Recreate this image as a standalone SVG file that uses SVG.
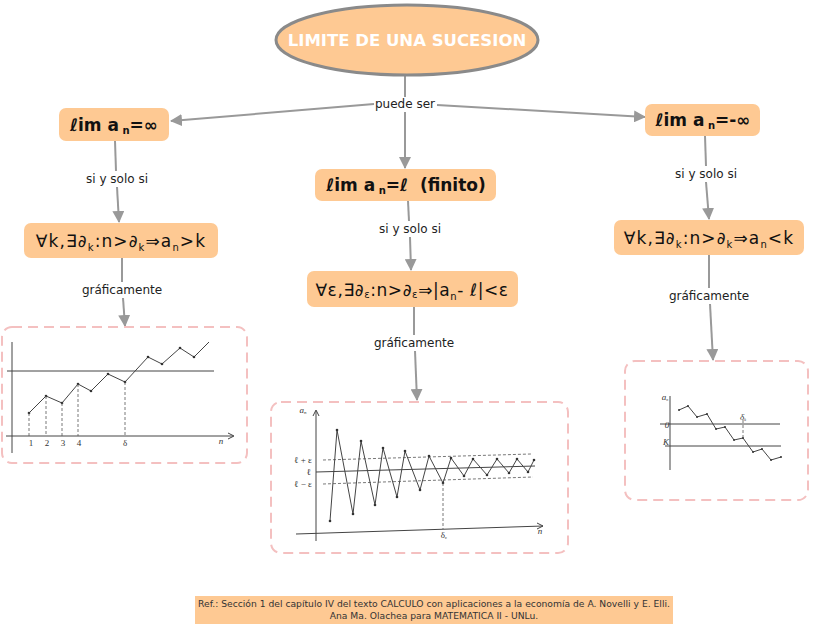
<svg xmlns="http://www.w3.org/2000/svg" width="813" height="627" viewBox="0 0 813 627">
<defs>
<style>
.node{fill:#fec993;}
.c{stroke:#999;stroke-width:2;fill:none;}
.lbl{font-family:"DejaVu Sans",Verdana,sans-serif;font-size:12px;fill:#222;text-anchor:middle;}
.lim{font-family:"DejaVu Sans",Verdana,sans-serif;font-size:17px;font-weight:bold;fill:#111;text-anchor:middle;}
.frm{font-family:"DejaVu Sans",Verdana,sans-serif;font-size:17px;fill:#111;text-anchor:middle;letter-spacing:1.1px;}
.sub{font-size:10px;}
.box{fill:#fff;stroke:#f4c0c0;stroke-width:2;stroke-dasharray:10 6;}
.g{stroke:#444;stroke-width:1;fill:none;}
.gd{stroke:#555;stroke-width:0.8;fill:none;stroke-dasharray:3 2;}
.gt{font-family:"Liberation Serif",serif;font-size:9px;fill:#333;text-anchor:middle;}
.pt{fill:#333;}
</style>
<marker id="ah" viewBox="0 0 12 12" refX="11" refY="6" markerWidth="12" markerHeight="12" markerUnits="userSpaceOnUse" orient="auto">
<path d="M0,0 L12,6 L0,12 Z" fill="#999"/>
</marker>
</defs>
<rect width="813" height="627" fill="#fff"/>

<g id="connectors">
<line class="c" x1="405" y1="76" x2="405" y2="97"/>
<line class="c" x1="374" y1="104" x2="171" y2="121" marker-end="url(#ah)"/>
<line class="c" x1="437" y1="105" x2="645" y2="117" marker-end="url(#ah)"/>
<line class="c" x1="405" y1="112" x2="405" y2="168" marker-end="url(#ah)"/>
<line class="c" x1="115" y1="141" x2="116" y2="171"/>
<line class="c" x1="117" y1="187" x2="119" y2="222" marker-end="url(#ah)"/>
<line class="c" x1="408" y1="201" x2="409" y2="221"/>
<line class="c" x1="410" y1="237" x2="411" y2="270" marker-end="url(#ah)"/>
<line class="c" x1="705" y1="136" x2="706" y2="166"/>
<line class="c" x1="706" y1="182" x2="709" y2="219" marker-end="url(#ah)"/>
<line class="c" x1="122" y1="258" x2="122" y2="282"/>
<line class="c" x1="123" y1="298" x2="125" y2="326" marker-end="url(#ah)"/>
<line class="c" x1="414" y1="307" x2="414" y2="335"/>
<line class="c" x1="415" y1="351" x2="417" y2="400" marker-end="url(#ah)"/>
<line class="c" x1="709" y1="255" x2="709" y2="288"/>
<line class="c" x1="710" y1="304" x2="713" y2="360" marker-end="url(#ah)"/>
<text class="lbl" x="405" y="108">puede ser</text>
<text class="lbl" x="117" y="183">si y solo si</text>
<text class="lbl" x="410" y="233">si y solo si</text>
<text class="lbl" x="706" y="178">si y solo si</text>
<text class="lbl" x="122" y="294">gráficamente</text>
<text class="lbl" x="414" y="347">gráficamente</text>
<text class="lbl" x="709" y="300">gráficamente</text>
</g>

<g id="title">
<ellipse cx="407" cy="40" rx="131" ry="35" fill="#fec993" stroke="#8a8a8a" stroke-width="3"/>
<text x="407" y="45.5" font-family="'DejaVu Sans',Verdana,sans-serif" font-size="16.5" font-weight="bold" fill="#fff" text-anchor="middle">LIMITE DE UNA SUCESION</text>
</g>

<g id="lim-inf">
<rect class="node" x="59" y="108" width="110" height="33" rx="7"/>
<text class="lim" x="114" y="131">ℓim a<tspan class="sub" dy="3"> n</tspan><tspan dy="-3">=∞</tspan></text>
</g>

<g id="lim-finito">
<rect class="node" x="315" y="169" width="181" height="32" rx="7"/>
<text class="lim" x="406" y="191">ℓim a<tspan class="sub" dy="3"> n</tspan><tspan dy="-3" xml:space="preserve">=ℓ  (finito)</tspan></text>
</g>

<g id="lim-minf">
<rect class="node" x="645" y="104" width="115" height="32" rx="7"/>
<text class="lim" x="703" y="126">ℓim a<tspan class="sub" dy="3"> n</tspan><tspan dy="-3">=-∞</tspan></text>
</g>

<g id="def-inf">
<rect class="node" x="24" y="223" width="194" height="35" rx="7"/>
<text class="frm" x="121" y="247">∀k,∃∂<tspan class="sub" dy="4">k</tspan><tspan dy="-4">:n&gt;∂</tspan><tspan class="sub" dy="4">k</tspan><tspan dy="-4">⇒a</tspan><tspan class="sub" dy="4">n</tspan><tspan dy="-4">&gt;k</tspan></text>
</g>

<g id="def-finito">
<rect class="node" x="307" y="271" width="211" height="36" rx="7"/>
<text class="frm" x="412" y="296" style="letter-spacing:0.6px">∀ε,∃∂<tspan class="sub" dy="2">ε</tspan><tspan dy="-2">:n&gt;∂</tspan><tspan class="sub" dy="2">ε</tspan><tspan dy="-2">⇒|a</tspan><tspan class="sub" dy="4">n</tspan><tspan dy="-4">- ℓ|&lt;ε</tspan></text>
</g>

<g id="def-minf">
<rect class="node" x="614" y="220" width="190" height="35" rx="7"/>
<text class="frm" x="709" y="244">∀k,∃∂<tspan class="sub" dy="4">k</tspan><tspan dy="-4">:n&gt;∂</tspan><tspan class="sub" dy="4">k</tspan><tspan dy="-4">⇒a</tspan><tspan class="sub" dy="4">n</tspan><tspan dy="-4">&lt;k</tspan></text>
</g>

<g id="graph-left">
<rect class="box" x="2" y="327" width="245" height="136" rx="10"/>
<line class="g" x1="12" y1="342" x2="12" y2="453"/>
<line class="g" x1="6" y1="436" x2="233" y2="436"/>
<path d="M228,433 L234,436 L228,439" class="g"/>
<line class="g" x1="7" y1="371" x2="214" y2="371"/>
<polyline class="g" points="29,413 46,396 62,403 78,384 91,391 108,374 125,382 148,357 162,364 180,348 194,357 209,342"/>
<g class="pt"><circle cx="29" cy="413" r="1.3"/><circle cx="46" cy="396" r="1.3"/><circle cx="62" cy="403" r="1.3"/><circle cx="78" cy="384" r="1.3"/><circle cx="91" cy="391" r="1.3"/><circle cx="108" cy="374" r="1.3"/><circle cx="125" cy="382" r="1.3"/><circle cx="148" cy="357" r="1.3"/><circle cx="162" cy="364" r="1.3"/><circle cx="180" cy="348" r="1.3"/><circle cx="194" cy="357" r="1.3"/></g>
<line class="gd" x1="29" y1="413" x2="29" y2="436"/>
<line class="gd" x1="46" y1="396" x2="46" y2="436"/>
<line class="gd" x1="62" y1="403" x2="62" y2="436"/>
<line class="gd" x1="78" y1="384" x2="78" y2="436"/>
<line class="gd" x1="125" y1="382" x2="125" y2="436"/>
<text class="gt" x="31" y="446">1</text>
<text class="gt" x="47" y="446">2</text>
<text class="gt" x="63" y="446">3</text>
<text class="gt" x="79" y="446">4</text>
<text class="gt" x="125" y="446">δ</text>
<text class="gt" x="221" y="444" font-style="italic">n</text>
</g>

<g id="graph-middle">
<rect class="box" x="271" y="402" width="297" height="151" rx="10"/>
<line class="g" x1="316" y1="411" x2="316" y2="541"/>
<path d="M313,416 L316,410 L319,416" class="g"/>
<line class="g" x1="296" y1="534" x2="543" y2="526"/>
<path d="M537,523 L543,526 L537,529" class="g"/>
<line class="gd" x1="323" y1="460" x2="531" y2="454"/>
<line class="g" x1="316" y1="472" x2="535" y2="466" stroke-width="1.3"/>
<line class="gd" x1="323" y1="484" x2="533" y2="477"/>
<polyline class="g" points="330,521 337,430 353,514 361,441 375,505 383,448 397,497 405,451 420,490 429,456 443,483 451,458 464,476 473,459 487,475 497,459 509,473 517,459 528,472 534,460"/>
<g class="pt"><circle cx="330" cy="521" r="1.3"/><circle cx="337" cy="430" r="1.3"/><circle cx="353" cy="514" r="1.3"/><circle cx="361" cy="441" r="1.3"/><circle cx="375" cy="505" r="1.3"/><circle cx="383" cy="448" r="1.3"/><circle cx="397" cy="497" r="1.3"/><circle cx="405" cy="451" r="1.3"/><circle cx="420" cy="490" r="1.3"/><circle cx="429" cy="456" r="1.3"/><circle cx="443" cy="483" r="1.3"/><circle cx="451" cy="458" r="1.3"/><circle cx="464" cy="476" r="1.3"/><circle cx="473" cy="459" r="1.3"/><circle cx="487" cy="475" r="1.3"/><circle cx="497" cy="459" r="1.3"/><circle cx="509" cy="473" r="1.3"/><circle cx="517" cy="459" r="1.3"/><circle cx="528" cy="472" r="1.3"/><circle cx="534" cy="460" r="1.3"/></g>
<line class="gd" x1="443" y1="483" x2="443" y2="529"/>
<text class="gt" x="303" y="413" font-style="italic" font-size="7">a<tspan font-size="5" dy="1">n</tspan></text>
<text class="gt" x="303" y="463" font-size="7">ℓ + ε</text>
<text class="gt" x="309" y="475" font-size="7">ℓ</text>
<text class="gt" x="303" y="487" font-size="7">ℓ − ε</text>
<text class="gt" x="444" y="538" font-size="7">δ<tspan font-size="5" dy="1">ε</tspan></text>
<text class="gt" x="540" y="534" font-style="italic" font-size="7">n</text>
</g>

<g id="graph-right">
<rect class="box" x="625" y="361" width="183" height="139" rx="10"/>
<line class="g" x1="670" y1="396" x2="670" y2="470"/>
<line class="g" x1="660" y1="424" x2="780" y2="424" stroke-width="0.8"/>
<line class="g" x1="665" y1="446" x2="781" y2="446" stroke-width="0.8"/>
<polyline class="g" points="679,410 688,406 697,417 707,414 716,429 725,427 734,440 743,438 753,452 762,449 771,460 781,457" stroke-width="0.8"/>
<g class="pt"><circle cx="679" cy="410" r="1"/><circle cx="688" cy="406" r="1"/><circle cx="697" cy="417" r="1"/><circle cx="707" cy="414" r="1"/><circle cx="716" cy="429" r="1"/><circle cx="725" cy="427" r="1"/><circle cx="734" cy="440" r="1"/><circle cx="743" cy="438" r="1"/><circle cx="753" cy="452" r="1"/><circle cx="762" cy="449" r="1"/><circle cx="771" cy="460" r="1"/><circle cx="781" cy="457" r="1"/></g>
<line class="gd" x1="743" y1="420" x2="743" y2="438"/>
<text class="gt" x="665" y="400" font-style="italic" font-size="6">a<tspan font-size="4" dy="1">n</tspan></text>
<text class="gt" x="667" y="428" font-style="italic" font-size="6">0</text>
<text class="gt" x="666" y="445" font-style="italic" font-size="6">K</text>
<text class="gt" x="743" y="420" font-style="italic" font-size="6">δ<tspan font-size="4" dy="1">k</tspan></text>
</g>

<g id="reference">
<rect x="195" y="596" width="478" height="28" fill="#fec993"/>
<text x="434" y="607" font-family="'DejaVu Sans',Verdana,sans-serif" font-size="9.2" fill="#333" text-anchor="middle">Ref.: Sección 1 del capítulo IV del texto CALCULO con aplicaciones a la economía de A. Novelli y E. Elli.</text>
<text x="434" y="619" font-family="'DejaVu Sans',Verdana,sans-serif" font-size="9.2" fill="#333" text-anchor="middle">Ana Ma. Olachea para MATEMATICA II - UNLu.</text>
</g>
</svg>
